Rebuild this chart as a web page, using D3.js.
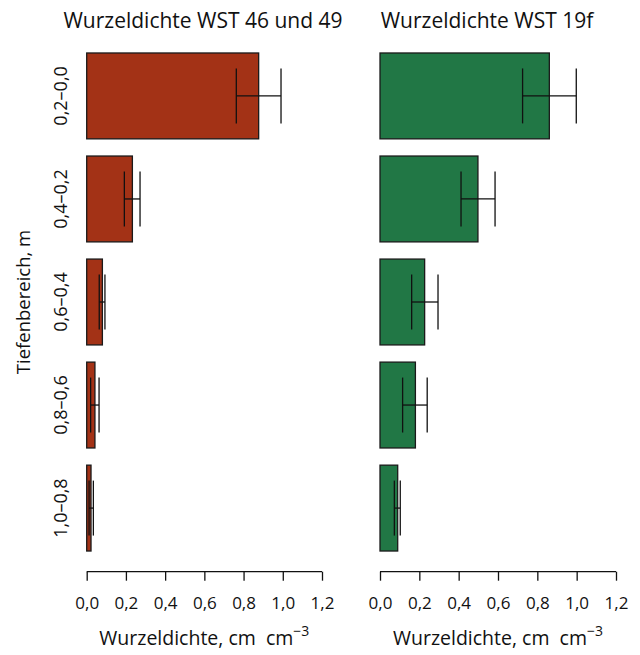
<!DOCTYPE html>
<html>
<head>
<meta charset="utf-8">
<title>Wurzeldichte</title>
<script src="https://cdn.jsdelivr.net/npm/d3@7"></script>
<style>
  body { margin:0; background:#fff; }
  text { font-family: "Open Sans", "Noto Sans", sans-serif; fill:#111; }
</style>
</head>
<body>
<div id="chart"></div>
<script>
// depth classes, top to bottom
var depths = ["0,2–0,0", "0,4–0,2", "0,6–0,4", "0,8–0,6", "1,0–0,8"];
var xTicks = [0, 0.2, 0.4, 0.6, 0.8, 1.0, 1.2];

// left panel: WST 46 und 49
var meanA = [0.877, 0.233, 0.080, 0.042, 0.022];
var loA   = [0.763, 0.192, 0.064, 0.020, 0.012];
var hiA   = [0.991, 0.272, 0.093, 0.063, 0.034];

// right panel: WST 19f
var meanB = [0.861, 0.498, 0.227, 0.180, 0.090];
var loB   = [0.725, 0.412, 0.161, 0.115, 0.073];
var hiB   = [0.998, 0.585, 0.295, 0.240, 0.103];

var panels = [
  {title: "Wurzeldichte WST 46 und 49", mean: meanA, lo: loA, hi: hiA, color: "#a33216", x0: 86.7, x1: 322, tx: 203},
  {title: "Wurzeldichte WST 19f", mean: meanB, lo: loB, hi: hiB, color: "#217745", x0: 380, x1: 616, tx: 487}
];

var W = 640, H = 655;
var svg = d3.select("#chart").append("svg").attr("width", W).attr("height", H);

var y = d3.scaleBand().domain(depths)
    .range([44.4, 559.6])
    .paddingInner(0.1667)
    .paddingOuter(0.0833);
var axisY = 571.7;

panels.forEach(function(p){
  var x = d3.scaleLinear().domain([0, 1.2]).range([p.x0, p.x1]);
  var g = svg.append("g");

  g.append("text")
    .attr("x", p.tx).attr("y", 28)
    .attr("text-anchor", "middle")
    .style("font-size", "21px")
    .text(p.title);

  g.selectAll(".bar").data(depths).enter().append("rect")
    .attr("x", x(0))
    .attr("y", function(d){ return y(d); })
    .attr("width", function(d, i){ return x(p.mean[i]) - x(0); })
    .attr("height", y.bandwidth())
    .attr("fill", p.color)
    .attr("stroke", "#1a1a1a")
    .attr("stroke-width", 1.3);

  var cap = y.bandwidth() * 0.32;
  var eb = g.selectAll(".err").data(depths).enter().append("g")
    .attr("stroke", "#111").attr("stroke-width", 1.3);
  eb.append("line")
    .attr("x1", function(d, i){ return x(p.lo[i]); })
    .attr("x2", function(d, i){ return x(p.hi[i]); })
    .attr("y1", function(d){ return y(d) + y.bandwidth() / 2; })
    .attr("y2", function(d){ return y(d) + y.bandwidth() / 2; });
  eb.append("line")
    .attr("x1", function(d, i){ return x(p.lo[i]); })
    .attr("x2", function(d, i){ return x(p.lo[i]); })
    .attr("y1", function(d){ return y(d) + y.bandwidth() / 2 - cap; })
    .attr("y2", function(d){ return y(d) + y.bandwidth() / 2 + cap; });
  eb.append("line")
    .attr("x1", function(d, i){ return x(p.hi[i]); })
    .attr("x2", function(d, i){ return x(p.hi[i]); })
    .attr("y1", function(d){ return y(d) + y.bandwidth() / 2 - cap; })
    .attr("y2", function(d){ return y(d) + y.bandwidth() / 2 + cap; });

  var xAxis = d3.axisBottom(x).tickValues(xTicks).tickSize(9).tickPadding(16)
    .tickFormat(function(d){ return d3.format(".1f")(d).replace(".", ","); });
  var ax = g.append("g").attr("transform", "translate(0," + axisY + ")").call(xAxis);
  ax.select(".domain").attr("stroke", "#111").attr("stroke-width", 1.3)
    .attr("d", "M" + x(0) + ",0H" + x(1.2));
  ax.selectAll(".tick line").attr("stroke", "#111").attr("stroke-width", 1.3);
  ax.selectAll(".tick text").style("font-size", "17px").attr("fill", "#111")
    .style("font-family", "'Open Sans', sans-serif");

  var lab = g.append("text")
    .attr("x", (p.x0 + p.x1) / 2).attr("y", 645)
    .attr("text-anchor", "middle")
    .style("font-size", "19.5px");
  lab.append("tspan").text("Wurzeldichte, cm\u00a0\u00a0cm");
  lab.append("tspan").attr("dy", -9).style("font-size", "14px").text("\u22123");
});

// y category labels (left panel only)
svg.selectAll(".ylab").data(depths).enter().append("text")
  .attr("transform", function(d){ return "translate(67," + (y(d) + y.bandwidth() / 2) + ") rotate(-90)"; })
  .attr("text-anchor", "middle")
  .style("font-size", "18px")
  .text(function(d){ return d; });

svg.append("text")
  .attr("transform", "translate(30," + (y.range()[0] + y.range()[1]) / 2 + ") rotate(-90)")
  .attr("text-anchor", "middle")
  .style("font-size", "18.5px")
  .text("Tiefenbereich, m");
</script>
</body>
</html>
